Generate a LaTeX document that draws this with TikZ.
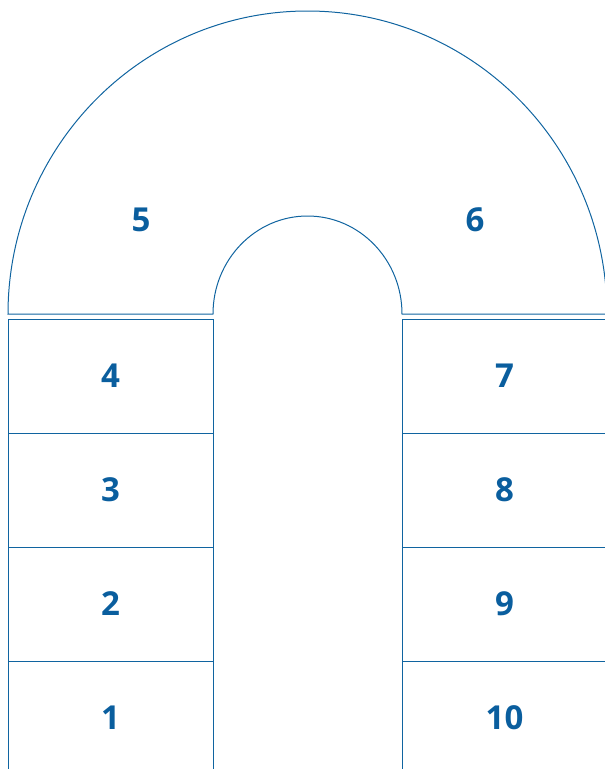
\documentclass[tikz,border=0pt]{standalone}
\usepackage{fontspec}
\setmainfont{Open Sans}
\definecolor{lineblue}{RGB}{16,100,160}
\definecolor{textblue}{RGB}{10,94,158}
\begin{document}
\begin{tikzpicture}[x=1pt,y=-1pt,
  cell/.style={draw=lineblue,line width=1pt,minimum width=205pt,minimum height=114pt,inner sep=0pt,
    font=\fontsize{33}{36}\selectfont\bfseries,text=textblue},
  lbl/.style={font=\fontsize{33}{36}\selectfont\bfseries,text=textblue,inner sep=0pt}]
\useasboundingbox (0,0) rectangle (605,769);
\clip (0,0) rectangle (605,769);
% arch
\draw[lineblue,line width=1pt]
  (8,314) arc[start angle=180,end angle=0,x radius=299.5,y radius=-303]
  -- (402,314)
  arc[start angle=0,end angle=180,x radius=94.5,y radius=-98]
  -- cycle;
\node[lbl] (n5) at (141,220) {5};
\node[lbl] (n6) at (475,220) {6};
% left column
\node[cell] (n4) at (110.5,376) {4};
\node[cell] (n3) at (110.5,490) {3};
\node[cell] (n2) at (110.5,604) {2};
\node[cell] (n1) at (110.5,718) {1};
% right column
\node[cell] (n7) at (504.5,376) {7};
\node[cell] (n8) at (504.5,490) {8};
\node[cell] (n9) at (504.5,604) {9};
\node[cell] (n10) at (504.5,718) {10};
\end{tikzpicture}
\end{document}
